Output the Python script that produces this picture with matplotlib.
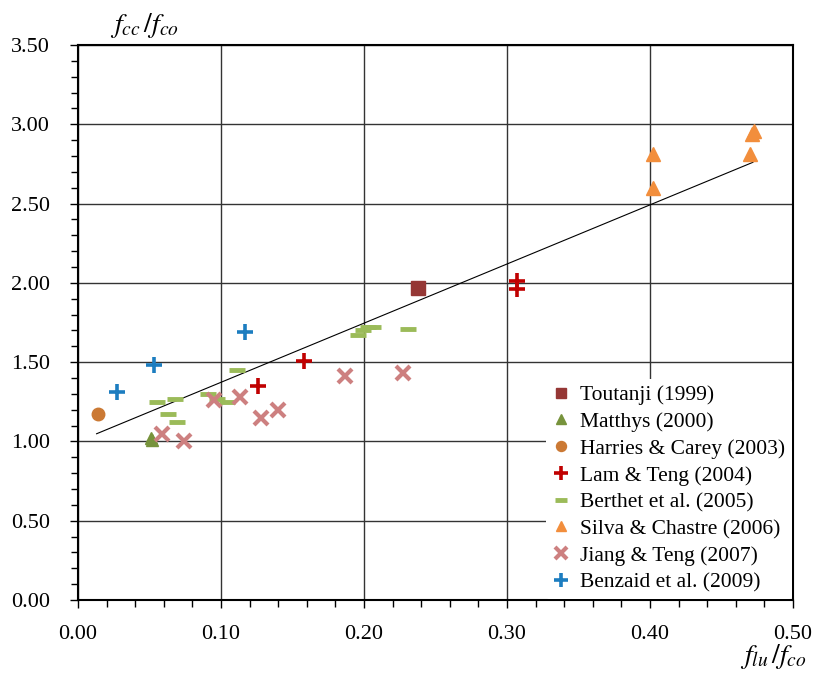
"""
Confinement ratio chart: f_cc/f_co against f_lu/f_co for several test series.
"""

import matplotlib
matplotlib.use("Agg")
import matplotlib.pyplot as plt
from matplotlib.ticker import MultipleLocator, FormatStrFormatter

plt.rcParams["font.family"] = ["Liberation Serif", "DejaVu Serif"]
plt.rcParams["mathtext.fontset"] = "stix"

# data: (f_lu/f_co, f_cc/f_co)
toutanji_x = [0.238]
toutanji_y = [1.97]

matthys_x = [0.051, 0.052]
matthys_y = [1.02, 1.01]

harries_x = [0.014]
harries_y = [1.17]

lam_x = [0.126, 0.158, 0.307, 0.307]
lam_y = [1.35, 1.51, 2.01, 1.96]

berthet_x = [0.055, 0.063, 0.069, 0.068, 0.091, 0.097, 0.104, 0.111,
             0.196, 0.199, 0.203, 0.206, 0.231]
berthet_y = [1.25, 1.17, 1.12, 1.27, 1.30, 1.27, 1.25, 1.45,
             1.67, 1.70, 1.72, 1.72, 1.71]

silva_x = [0.402, 0.402, 0.470, 0.471, 0.473]
silva_y = [2.81, 2.60, 2.81, 2.94, 2.96]

jiang_x = [0.059, 0.074, 0.095, 0.113, 0.128, 0.140, 0.187, 0.227]
jiang_y = [1.05, 1.00, 1.26, 1.28, 1.15, 1.20, 1.41, 1.43]

benzaid_x = [0.027, 0.053, 0.117]
benzaid_y = [1.31, 1.48, 1.69]

# linear trend line
trend_x = [0.013, 0.472]
trend_slope = 3.73
trend_intercept = 1.0

fig = plt.figure(figsize=(8.15, 6.77), dpi=100)
ax = fig.add_axes([0.0957, 0.1137, 0.8773, 0.8198])

ax.set_xlim(0, 0.5)
ax.set_ylim(0, 3.5)
ax.xaxis.set_major_locator(MultipleLocator(0.1))
ax.xaxis.set_minor_locator(MultipleLocator(0.02))
ax.yaxis.set_major_locator(MultipleLocator(0.5))
ax.yaxis.set_minor_locator(MultipleLocator(0.1))
ax.xaxis.set_major_formatter(FormatStrFormatter("%.2f"))
ax.yaxis.set_major_formatter(FormatStrFormatter("%.2f"))
ax.tick_params(which="both", direction="out", labelsize=16, color="black")
ax.tick_params(which="major", length=6, width=1)
ax.tick_params(which="minor", length=5, width=1)
ax.tick_params(axis="x", which="major", pad=12)
ax.tick_params(axis="y", which="major", pad=14)
ax.grid(True, which="major", color="#333333", linewidth=1.0)
ax.set_axisbelow(True)
for sp in ax.spines.values():
    sp.set_linewidth(1.5)

# trend line
ax.plot(trend_x, [trend_intercept + trend_slope * x for x in trend_x],
        color="black", linewidth=0.8, zorder=2)

ax.plot(toutanji_x, toutanji_y, "s", color="#953735", markersize=9.5,
        linestyle="none", label="Toutanji (1999)", zorder=3)
ax.plot(matthys_x, matthys_y, "^", color="#77933C", markersize=9,
        linestyle="none", label="Matthys (2000)", zorder=3)
ax.plot(harries_x, harries_y, "o", color="#CB7934", markersize=9,
        linestyle="none", label="Harries & Carey (2003)", zorder=3)
ax.plot(lam_x, lam_y, "+", color="#C00000", markersize=12, mew=2.6,
        linestyle="none", label="Lam & Teng (2004)", zorder=3)
ax.plot(berthet_x, berthet_y, "_", color="#9BBB59", markersize=11, mew=3.5,
        linestyle="none", label="Berthet et al. (2005)", zorder=3)
ax.plot(silva_x, silva_y, "^", color="#F28E3C", markersize=9.5,
        linestyle="none", label="Silva & Chastre (2006)", zorder=3)
ax.plot(jiang_x, jiang_y, "x", color="#CD8080", markersize=10, mew=3,
        linestyle="none", label="Jiang & Teng (2007)", zorder=3)
ax.plot(benzaid_x, benzaid_y, "+", color="#1C7DC0", markersize=12, mew=2.6,
        linestyle="none", label="Benzaid et al. (2009)", zorder=3)

leg = ax.legend(loc="lower right", fontsize=15.5, frameon=True, framealpha=1,
                facecolor="white", edgecolor="none", handlelength=0.8,
                handletextpad=0.5, labelspacing=0.31, borderpad=0.3,
                borderaxespad=0.05, markerscale=0.8)
leg.get_frame().set_linewidth(0)

fig.text(0.135, 0.962, r"$f_{cc}\,/f_{co}$", fontsize=20, ha="left", va="center")
fig.text(0.99, 0.03, r"$f_{lu}\,/f_{co}$", fontsize=20, ha="right", va="center")

fig.savefig("out.png", dpi=100)
plt.close(fig)
